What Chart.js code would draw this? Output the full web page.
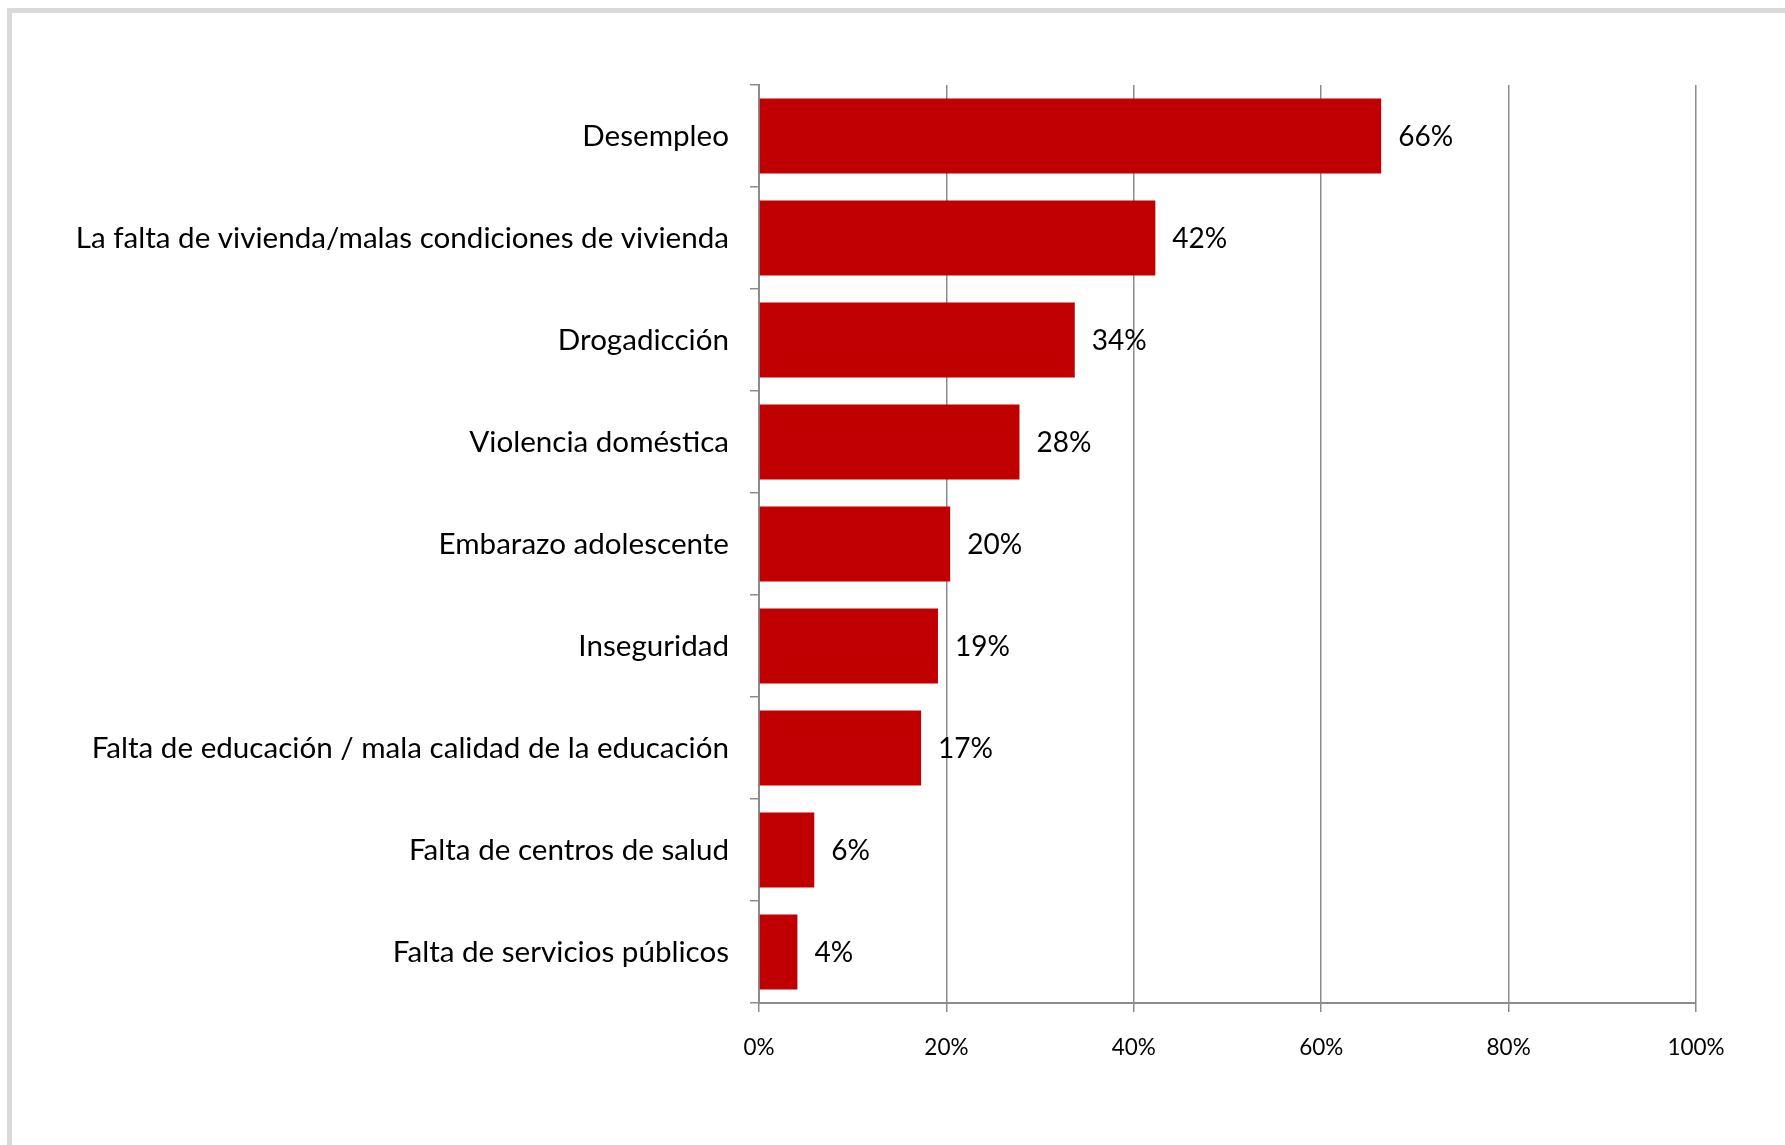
<!DOCTYPE html>
<html>
<head>
<meta charset="utf-8">
<script src="https://cdn.jsdelivr.net/npm/chart.js@4"></script>
<style>
  html, body { margin: 0; padding: 0; background: #fff; overflow: hidden; }
  #wrap { position: relative; width: 1785px; height: 1145px; }
  #frame {
    position: absolute; left: 7px; top: 8px; width: 1800px; height: 1160px;
    border-left: 5px solid #d9d9d9; border-top: 5px solid #d9d9d9;
  }
  canvas { position: absolute; left: 0; top: 0; }
</style>
</head>
<body>
<div id="wrap">
  <div id="frame"></div>
  <canvas id="chart" width="1785" height="1145"></canvas>
</div>
<script>
const categories = [
    'Desempleo',
    'La falta de vivienda/malas condiciones de vivienda',
    'Drogadicción',
    'Violencia doméstica',
    'Embarazo adolescente',
    'Inseguridad',
    'Falta de educación / mala calidad de la educación',
    'Falta de centros de salud',
    'Falta de servicios públicos'
];
const values = [66.4, 42.3, 33.7, 27.8, 20.4, 19.1, 17.3, 5.9, 4.1];
const xTicks = [0, 20, 40, 60, 80, 100];

const FONT = 'Lato, "Open Sans", sans-serif';
const axisGray = '#8c8c8c';

// value labels to the right of each bar
const barLabels = {
    id: 'barLabels',
    afterDatasetsDraw(chart) {
        const ctx = chart.ctx;
        const meta = chart.getDatasetMeta(0);
        ctx.save();
        ctx.font = '28px ' + FONT;
        ctx.fillStyle = '#000';
        ctx.textAlign = 'left';
        ctx.textBaseline = 'middle';
        meta.data.forEach((bar, i) => {
            ctx.fillText(Math.round(values[i]) + '%', bar.x + 17, bar.y + 1);
        });
        ctx.restore();
    }
};

const ctx = document.getElementById('chart').getContext('2d');
const myChart = new Chart(ctx, {
    type: 'bar',
    data: {
        labels: categories,
        datasets: [{
            data: values,
            backgroundColor: '#c00000',
            borderWidth: 0,
            categoryPercentage: 1,
            barPercentage: 0.735
        }]
    },
    options: {
        indexAxis: 'y',
        responsive: false,
        animation: false,
        layout: { padding: { left: 0, top: 85, right: 89, bottom: 0 } },
        plugins: { legend: { display: false }, tooltip: { enabled: false } },
        scales: {
            x: {
                min: 0,
                max: 100,
                afterBuildTicks: (scale) => { scale.ticks = xTicks.map(v => ({ value: v })); },
                afterFit: (scale) => { scale.height = 142; },
                grid: { color: axisGray, lineWidth: 1.5, tickLength: 9, drawTicks: true },
                border: { color: axisGray, width: 2 },
                ticks: {
                    callback: (v) => v + '%',
                    font: { family: FONT, size: 22.5 },
                    color: '#000',
                    padding: 22,
                    maxRotation: 0
                }
            },
            y: {
                afterFit: (scale) => { scale.width = 759; },
                grid: { offset: true, drawOnChartArea: false, color: axisGray, lineWidth: 1.5, tickLength: 9 },
                border: { color: axisGray, width: 2 },
                ticks: {
                    font: { family: FONT, size: 29.6 },
                    color: '#000',
                    padding: 21,
                    autoSkip: false
                }
            }
        }
    },
    plugins: [barLabels]
});
</script>
</body>
</html>
